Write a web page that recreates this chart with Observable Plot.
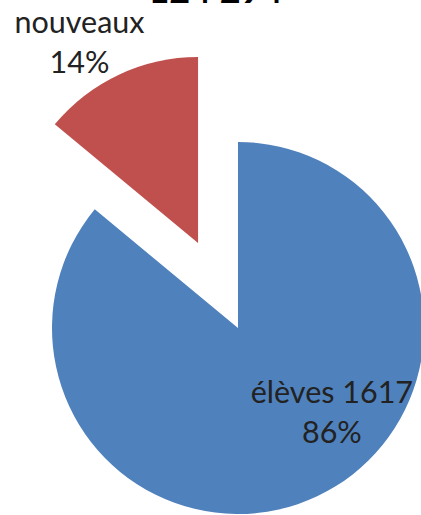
<!DOCTYPE html>
<html><head><meta charset="utf-8">
<script src="https://cdn.jsdelivr.net/npm/d3@7"></script>
<script src="https://cdn.jsdelivr.net/npm/@observablehq/plot@0.6"></script>
<style>body{margin:0;background:#fff}svg{display:block}</style>
</head><body><div id="chart"></div>
<script>
const categories = ["élèves", "nouveaux"];
const counts = [1617, 263];
const percentLabels = ["86%", "14%"];
const labelTexts = ["élèves 1617\n86%", "nouveaux\n14%"];
const titleText = "124 294";

const colors = ["#4F81BD", "#C0504D"];
const W = 421, H = 515, R = 186, cx = 238, cy = 328;
const explode = [0, 0.505];

const data = categories.map((c, i) => ({category: c, value: counts[i], label: labelTexts[i], explode: explode[i]}));
const arcs = d3.pie().sort(null).value(d => d.value)(data);

// label anchors in radius units relative to the pie centre
const labelPos = [[0.502, -0.44], [-0.855, 1.55]];

function pieMark(index, scales) {
  const ox = scales.x(0), oy = scales.y(0);
  const k = scales.x(1) - scales.x(0);
  const arc = d3.arc().innerRadius(0).outerRadius(k);
  const g = d3.create("svg:g");
  arcs.forEach((a, i) => {
    const mid = (a.startAngle + a.endAngle) / 2;
    const off = a.data.explode * k;
    g.append("path")
      .attr("d", arc(a))
      .attr("fill", colors[i])
      .attr("transform", `translate(${ox + off * Math.sin(mid)},${oy - off * Math.cos(mid)})`);
  });
  return g.node();
}

const chart = Plot.plot({
  width: W, height: H,
  margin: 0,
  x: {domain: [-cx / R, (W - cx) / R], axis: null},
  y: {domain: [-(H - cy) / R, cy / R], axis: null},
  style: {fontFamily: "Lato, sans-serif", background: "#fff"},
  marks: [
    pieMark,
    Plot.text(data, {
      x: (d, i) => labelPos[i][0], y: (d, i) => labelPos[i][1],
      text: "label", fontSize: 30.5, fill: "#222", lineHeight: 1.32,
      textAnchor: "middle", lineAnchor: "middle"
    }),
    Plot.text([titleText], {
      x: (215 - cx) / R, y: (cy - 2) / R, text: d => d,
      fontSize: 36, fontWeight: "bold", fill: "#000",
      textAnchor: "middle", lineAnchor: "bottom"
    })
  ]
});
document.getElementById("chart").append(chart);
</script></body></html>
